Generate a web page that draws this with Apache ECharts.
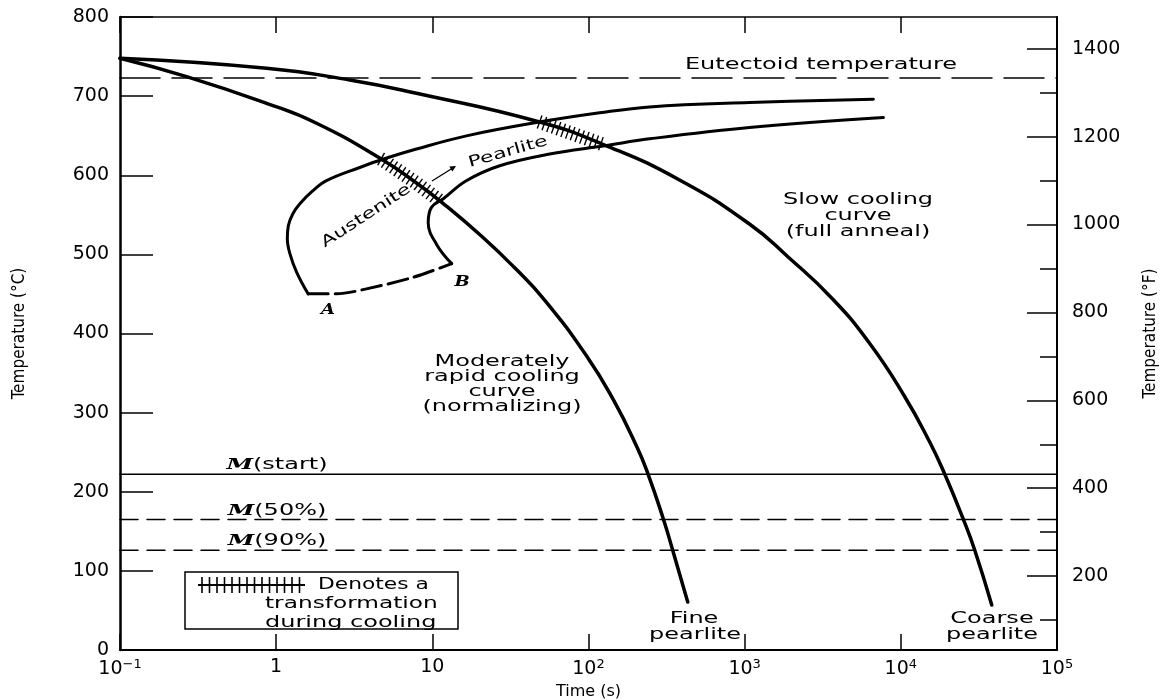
<!DOCTYPE html>
<html>
<head>
<meta charset="utf-8">
<script src="https://cdn.jsdelivr.net/npm/echarts@6/dist/echarts.min.js"></script>
<style>
  html, body { margin: 0; padding: 0; background: #fff; }
  #chart { width: 1166px; height: 700px; }
</style>
</head>
<body>
<div id="chart"></div>
<script>
// ---- Data -----------------------------------------------------------------
// Time axis range (s), log scale
const timeRange = [0.1, 100000];
// Temperature ticks
const tempTicksC = [0, 100, 200, 300, 400, 500, 600, 700, 800];
const tempTicksF = [200, 400, 600, 800, 1000, 1200, 1400];
const tempMinorF = [100, 300, 500, 700, 900, 1100, 1300];

// Cooling curves: [time (s), temperature (°C)]
const normalizingCurve = [
  [0.1, 747.8], [0.267, 724.6], [0.868, 690.9], [1.814, 665.7], [4.815, 619.3],
  [7.91, 590.2], [11.65, 564.9], [20.95, 522.0], [33.32, 484.0], [52.37, 442.3],
  [97.95, 370.7], [144.5, 316.0], [204.3, 256.6], [240.6, 222.4], [301.5, 165.6],
  [345.7, 126.4], [431.9, 60.7]
];
const fullAnnealCurve = [
  [0.1, 747.8], [0.868, 735.2], [2.96, 720.4], [7.91, 703.6], [48.65, 667.3],
  [126.8, 638.2], [382.7, 594.0], [1073, 538.4], [1929, 495.4], [3603, 444.9],
  [6288, 388.0], [10576, 320.4], [15360, 262.2], [19094, 222.4], [25070, 165.6],
  [29710, 126.4], [38210, 56.9]
];

// Pearlite transformation start (from A) and finish (from B)
const pearliteStart = [
  [1.602, 450.1], [1.356, 477.0], [1.224, 501.0], [1.179, 519.9], [1.197, 536.3],
  [1.279, 551.4], [1.418, 564.0], [1.692, 579.2], [2.101, 593.1], [3.431, 609.8],
  [4.815, 620.2], [7.91, 633.1], [16.53, 649.8], [46.4, 666.6], [117.8, 678.9],
  [246, 686.4], [1073, 691.9], [6668, 696.2]
];
const pearliteFinish = [
  [13.3, 488.3], [10.67, 512.3], [9.41, 540.0], [9.87, 559.4], [11.7, 570.0],
  [16.5, 593.0], [27.0, 612.0], [56.4, 626.8], [126.8, 637.2], [246, 646.0],
  [1073, 660.3], [7730, 673.0]
];
// Dashed boundary between A and B
const boundaryAB = [
  [1.602, 450.1], [2.43, 450.1], [3.79, 456.4], [7.52, 471.0], [13.3, 488.3]
];

// Reference temperatures (°C)
const eutectoidTemp = 723;
const martensiteStart = 222;
const martensite50 = 165;
const martensite90 = 126;

// Transformation intervals along each cooling curve (s)
const normalizingTransform = [4.7, 11.1];
const annealTransform = [48.65, 126.8];

// ---- Chart ----------------------------------------------------------------
const INK = '#000';
const SANS = '"DejaVu Sans", sans-serif';
const NARROW = '"Liberation Sans Narrow", "DejaVu Sans Condensed", sans-serif';
const STRETCH = 1.6;

function horizontal(temp) {
  return [[timeRange[0], temp], [timeRange[1], temp]];
}

function lineSeries(name, data, width, dash, smooth) {
  return {
    name, type: 'line', data, smooth: smooth || false,
    symbol: 'none', silent: true, z: 3,
    lineStyle: { color: INK, width, type: dash || 'solid', cap: 'round', join: 'round' }
  };
}

// Short ticks across a cooling curve where the transformation takes place
function hatchSeries(name, curve, range) {
  return {
    name, type: 'custom', silent: true, z: 4,
    data: [[range[0], range[1]]],
    encode: { x: 0, y: 1 },
    renderItem(params, api) {
      const t0 = api.value(0), t1 = api.value(1);
      const logs = curve.map(p => Math.log10(p[0]));
      const px = curve.map(p => api.coord(p));
      const at = t => {
        const l = Math.log10(t);
        for (let i = 0; i < logs.length - 1; i++) {
          if (l >= logs[i] && l <= logs[i + 1]) {
            const f = (l - logs[i]) / (logs[i + 1] - logs[i]);
            return { i, p: [px[i][0] + f * (px[i + 1][0] - px[i][0]),
                            px[i][1] + f * (px[i + 1][1] - px[i][1])] };
          }
        }
        return null;
      };
      const a = at(t0), b = at(t1);
      const path = [a.p];
      for (let i = a.i + 1; i <= b.i; i++) path.push(px[i]);
      path.push(b.p);
      const children = [];
      const step = 5, half = 7;
      let carry = 0;
      for (let k = 0; k < path.length - 1; k++) {
        const [x0, y0] = path[k], [x1, y1] = path[k + 1];
        const dx = x1 - x0, dy = y1 - y0, len = Math.hypot(dx, dy);
        if (!len) continue;
        const ux = dx / len, uy = dy / len, nx = -uy, ny = ux;
        let d = carry;
        while (d <= len) {
          const cx = x0 + ux * d, cy = y0 + uy * d;
          children.push({
            type: 'line',
            shape: { x1: cx - nx * half, y1: cy - ny * half, x2: cx + nx * half, y2: cy + ny * half },
            style: { stroke: INK, lineWidth: 1.4 }
          });
          d += step;
        }
        carry = d - len;
      }
      return { type: 'group', children };
    }
  };
}

function label(x, y, text, opt) {
  opt = opt || {};
  return {
    type: 'text', x, y, z: 100,
    rotation: (opt.rotate || 0) * Math.PI / 180,
    scaleX: opt.scaleX || STRETCH,
    style: {
      text,
      font: opt.font || ('15px ' + SANS),
      fill: INK,
      textAlign: opt.align || 'center',
      textVerticalAlign: 'middle',
      rich: opt.rich
    }
  };
}

const mRich = {
  m: { fontFamily: '"DejaVu Serif", serif', fontStyle: 'italic', fontWeight: 'bold', fontSize: 15 }
};
const letterFont = 'italic bold 15px "DejaVu Serif", serif';

// Legend box with its hatch symbol
const legendParts = [
  { type: 'rect', shape: { x: 185, y: 572, width: 273, height: 57 },
    style: { fill: '#fff', stroke: INK, lineWidth: 1.5 } },
  { type: 'line', shape: { x1: 198, y1: 585, x2: 305, y2: 585 }, style: { stroke: INK, lineWidth: 2.2 } }
];
for (let k = 0; k < 14; k++) {
  const x = 202 + k * 7.5;
  legendParts.push({ type: 'line', shape: { x1: x, y1: 577, x2: x, y2: 593 }, style: { stroke: INK, lineWidth: 1.6 } });
}

const superscript = v => {
  const e = Math.round(Math.log10(v));
  if (e === 0) return '1';
  if (e === 1) return '10';
  return '10{sup|' + (e < 0 ? '\u2212' : '') + Math.abs(e) + '}';
};

const option = {
  animation: false,
  backgroundColor: '#fff',
  grid: { left: 120, right: 109, top: 17, bottom: 50, containLabel: false, outerBoundsMode: 'none' },
  xAxis: [
    {
      type: 'log', logBase: 10, min: timeRange[0], max: timeRange[1],
      position: 'bottom',
      name: 'Time (s)', nameLocation: 'middle', nameGap: 32,
      nameTextStyle: { color: INK, fontFamily: SANS, fontSize: 16 },
      axisLine: { lineStyle: { color: INK, width: 2 } },
      axisTick: { inside: true, length: 16, lineStyle: { color: INK, width: 1.5 } },
      minorTick: { show: false },
      splitLine: { show: false },
      axisLabel: {
        color: INK, fontFamily: SANS, fontSize: 19, margin: 8,
        formatter: superscript,
        rich: { sup: { fontFamily: SANS, fontSize: 13, verticalAlign: 'top', padding: [0, 0, 9, 0] } }
      }
    },
    {
      type: 'log', logBase: 10, min: timeRange[0], max: timeRange[1],
      position: 'top',
      axisLine: { lineStyle: { color: INK, width: 1.5 } },
      axisTick: { inside: true, length: 16, lineStyle: { color: INK, width: 1.5 } },
      axisLabel: { show: false },
      splitLine: { show: false }
    }
  ],
  yAxis: [
    {
      type: 'value', min: tempTicksC[0], max: tempTicksC[tempTicksC.length - 1], interval: 100,
      position: 'left',
      name: 'Temperature (°C)', nameLocation: 'middle', nameGap: 92, nameRotate: 90,
      nameTextStyle: { color: INK, fontFamily: NARROW, fontSize: 17 },
      axisLine: { show: true, lineStyle: { color: INK, width: 2.5 } },
      axisTick: { show: true, inside: true, length: 33, lineStyle: { color: INK, width: 1.5 } },
      splitLine: { show: false },
      axisLabel: { color: INK, fontFamily: SANS, fontSize: 19, margin: 11 }
    },
    {
      type: 'value', min: 32, max: 1472, position: 'right',
      name: 'Temperature (°F)', nameLocation: 'middle', nameGap: 85, nameRotate: 90,
      nameTextStyle: { color: INK, fontFamily: NARROW, fontSize: 17 },
      axisLine: { show: true, lineStyle: { color: INK, width: 2 } },
      axisTick: { show: true, inside: true, length: 30, customValues: tempTicksF, lineStyle: { color: INK, width: 1.5 } },
      axisLabel: { color: INK, fontFamily: SANS, fontSize: 19, margin: 15, customValues: tempTicksF,
                   formatter: v => String(v) },
      splitLine: { show: false }
    },
    {
      type: 'value', min: 32, max: 1472, position: 'right',
      axisLine: { show: false },
      axisTick: { show: true, inside: true, length: 17, customValues: tempMinorF, lineStyle: { color: INK, width: 1.5 } },
      axisLabel: { show: false },
      splitLine: { show: false }
    }
  ],
  series: [
    lineSeries('Eutectoid temperature', horizontal(eutectoidTemp), 1.5, [40, 12]),
    lineSeries('M(start)', horizontal(martensiteStart), 1.5),
    lineSeries('M(50%)', horizontal(martensite50), 1.5, [18, 9]),
    lineSeries('M(90%)', horizontal(martensite90), 1.5, [18, 9]),
    lineSeries('Pearlite start', pearliteStart, 3, null, 0.4),
    lineSeries('Pearlite finish', pearliteFinish, 3, null, 0.4),
    lineSeries('A-B', boundaryAB, 3, [20, 7], 0.3),
    lineSeries('Moderately rapid cooling', normalizingCurve, 3.5, null, 0.5),
    lineSeries('Slow cooling', fullAnnealCurve, 3.5, null, 0.5),
    hatchSeries('Normalizing transformation', normalizingCurve, normalizingTransform),
    hatchSeries('Anneal transformation', fullAnnealCurve, annealTransform)
  ],
  graphic: [
    label(821, 65, 'Eutectoid temperature'),
    label(858, 200, 'Slow cooling'),
    label(858, 216, 'curve'),
    label(858, 232, '(full anneal)'),
    label(502, 362, 'Moderately'),
    label(502, 377, 'rapid cooling'),
    label(502, 392, 'curve'),
    label(502, 407, '(normalizing)'),
    label(694, 619, 'Fine'),
    label(695, 635, 'pearlite'),
    label(992, 619, 'Coarse'),
    label(992, 635, 'pearlite'),
    label(366, 216, 'Austenite', { rotate: 33, scaleX: 1.45 }),
    label(508, 152, 'Pearlite', { rotate: 16, scaleX: 1.45 }),
    label(328, 310, 'A', { font: letterFont, scaleX: 1.2 }),
    label(462, 282, 'B', { font: letterFont, scaleX: 1.2 }),
    label(277, 465, '{m|M}(start)', { rich: mRich }),
    label(277, 511, '{m|M}(50%)', { rich: mRich }),
    label(277, 541, '{m|M}(90%)', { rich: mRich }),
    {
      type: 'group', z: 100,
      children: [
        { type: 'line', shape: { x1: 432, y1: 181, x2: 452, y2: 168.5 }, style: { stroke: INK, lineWidth: 1.3 } },
        { type: 'polygon', shape: { points: [[456, 166], [449.3, 166.6], [452.4, 171.6]] }, style: { fill: INK } }
      ]
    },
    { type: 'group', z: 90, children: legendParts },
    label(318, 585, 'Denotes a', { align: 'left', scaleX: 1.45 }),
    label(265, 604, 'transformation', { align: 'left', scaleX: 1.55 }),
    label(265, 623, 'during cooling', { align: 'left', scaleX: 1.6 })
  ]
};

const chart = echarts.init(document.getElementById('chart'), null, { renderer: 'canvas' });
chart.setOption(option);
</script>
</body>
</html>
